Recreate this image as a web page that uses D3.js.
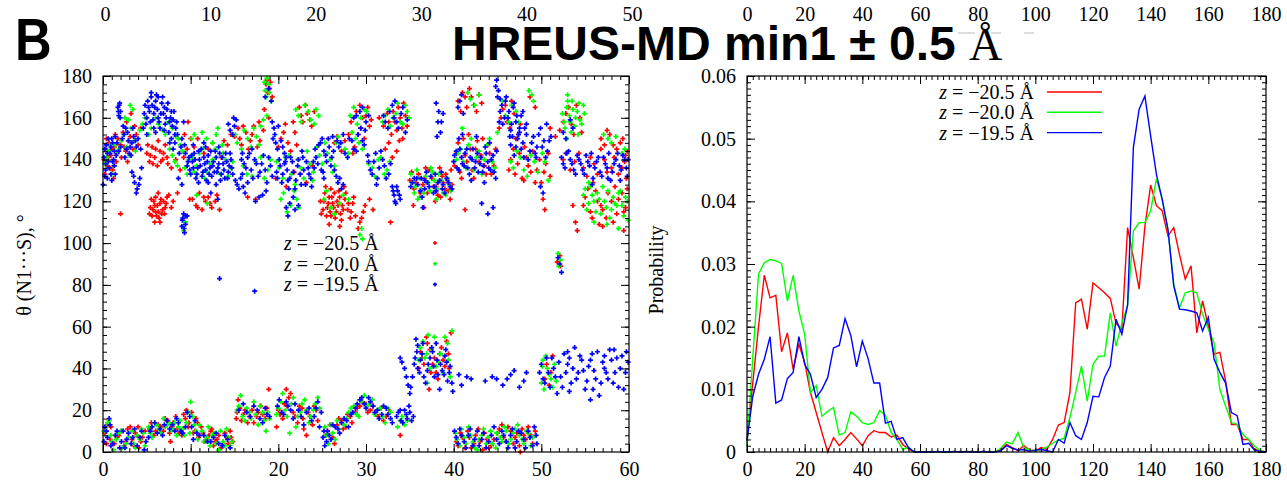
<!DOCTYPE html>
<html>
<head>
<meta charset="utf-8">
<script src="https://cdn.jsdelivr.net/npm/d3@7"></script>
<style>
  body { margin: 0; background: #fff; }
</style>
</head>
<body>
<svg id="chart" width="1287" height="483"></svg>
<script>
// ---- data: time (ns), angle (deg) pairs ----
const redPoints = [
  0.1,140, 0.3,145, 0.5,137, 0.7,148, 0.9,142, 1.1,135, 1.3,146, 1.5,139,
  1.7,150, 2.0,147, 2.3,153, 2.6,144, 2.9,149, 2.0,114, 2.7,158, 3.2,162, 3.6,156,
  5.0,143, 5.3,139, 5.6,146, 5.9,141, 6.2,137, 6.5,144, 6.8,140, 7.1,147, 7.4,138,
  5.4,117, 5.6,113, 5.8,120, 6.0,115, 6.2,118, 6.4,112, 6.6,121, 6.8,116, 7.0,114, 7.2,119, 7.5,123, 7.8,117, 5.9,110, 6.3,124,
  7.8,136, 8.3,140, 8.8,135, 9.2,141, 9.3,152, 9.7,158, 10.0,150,
  10.2,121, 10.6,118, 11.0,124, 11.3,116, 11.7,120, 12.0,122, 12.4,117, 12.8,120, 13.3,116,
  10.4,146, 11.5,143, 12.5,148, 13.5,141, 14.2,147,
  15.0,151, 15.4,155, 15.8,147, 16.3,153, 16.8,149, 17.2,156, 17.6,146, 16.5,122, 17.4,121,
  17.8,158, 18.3,154, 18.9,160, 18.6,176, 19.0,174, 19.3,170,
  20.3,150, 20.8,157, 21.4,144, 21.9,153, 22.4,165, 22.8,158, 23.3,162, 23.8,156,
  22.5,133, 23.2,129, 23.9,137,
  24.8,120, 25.1,116, 25.3,124, 25.5,113, 25.7,119, 25.9,115, 26.1,122, 26.3,117, 26.5,112, 26.7,120,
  26.9,125, 27.1,114, 27.3,118, 27.6,121, 27.9,116, 28.2,112, 28.5,119, 25.8,109, 27.0,108,
  26.4,148, 27.2,144, 28.0,152, 28.7,146, 29.4,155, 28.3,158, 28.9,163, 29.6,160, 30.2,165, 30.6,159,
  29.1,107, 29.5,112, 29.9,118, 30.4,121, 30.8,116,
  32.0,156, 32.4,162, 32.9,152, 33.3,158, 33.7,165, 34.1,155, 34.5,161, 32.2,145, 33.0,141, 33.8,149, 32.8,110,
  35.0,130, 35.5,126, 36.0,133, 36.5,128, 37.0,124, 37.5,131, 38.0,127, 38.5,122, 38.8,129, 39.1,133,
  39.4,125, 39.6,121, 39.8,128, 36.8,136, 35.4,118, 36.6,117,
  40.1,137, 40.5,148, 40.9,131, 41.3,142, 41.7,152, 42.1,135, 42.5,145, 42.9,139, 43.3,150, 43.7,133, 44.1,143, 44.6,137,
  40.5,168, 41.0,172, 41.5,165, 42.0,170, 42.6,163, 43.2,167, 41.3,116,
  45.4,160, 45.9,166, 46.4,155, 46.9,162, 47.4,152,
  46.5,140, 47.0,133, 47.5,143, 48.0,130, 48.5,137, 49.0,144, 49.5,135, 50.0,129, 50.5,138, 51.0,132,
  48.7,170, 49.3,165, 51.0,155, 51.6,151, 52.1,154, 52.8,162, 53.4,157, 54.0,166, 54.6,153,
  53.6,118, 53.9,110, 54.1,106,
  52.5,140, 53.3,135, 54.3,143, 55.2,132, 56.0,138, 56.8,145, 57.5,134, 58.3,141, 59.2,136, 59.7,131,
  55.0,122, 55.6,115, 56.2,125, 56.8,118, 57.4,112, 58.0,120, 58.6,114, 59.2,124, 59.6,117, 57.0,108, 59.4,106,
  56.8,150, 57.5,154, 58.2,147, 59.0,148, 59.6,142, 51.8,91, 52.1,94, 52.2,89,
  0.2,9, 0.5,13, 0.8,6, 1.3,4, 1.8,8, 2.4,3, 2.8,11, 3.3,6, 3.7,9, 4.1,2, 4.5,7, 4.0,12,
  5.3,11, 5.8,8, 6.3,13, 6.9,10, 7.4,15, 7.9,12, 8.3,17, 8.7,9, 7.7,5,
  9.2,18, 9.5,20, 9.8,14, 10.3,9, 10.6,16, 10.9,7, 11.2,12,
  11.6,5, 12.1,8, 12.6,3, 13.0,6, 13.5,2, 13.9,9, 14.3,4, 14.6,7, 12.4,11,
  15.2,16, 15.6,21, 16.0,18, 16.5,14, 17.0,20, 17.5,17, 18.0,22, 18.5,16, 18.9,30, 15.4,25,
  19.8,12, 20.2,18, 20.7,23, 21.2,26, 21.7,19, 22.2,14, 22.7,21, 23.2,8, 23.6,17, 24.1,22, 24.5,15, 20.9,30, 22.9,11,
  25.4,8, 25.9,13, 26.4,4, 26.9,16, 27.4,11, 27.9,18, 28.4,14, 29.0,21,
  29.6,24, 30.2,19, 30.8,22, 31.4,17, 32.0,15, 32.6,20, 33.9,8,
  36.2,48, 36.6,42, 37.0,52, 37.4,38, 37.8,45, 38.2,35, 38.6,50, 39.0,41, 39.4,47, 39.7,57, 37.2,30,
  40.3,5, 40.8,9, 41.3,2, 41.8,7, 42.3,4, 42.8,11, 43.3,1, 43.8,6, 44.3,3, 45.0,9, 45.5,13, 46.0,5,
  46.5,10, 47.0,7, 47.5,3, 48.0,8, 48.5,12, 49.0,4, 47.6,0,
  50.4,35, 50.9,32, 51.3,46
];
const redPointsMore = [
  0.2,133, 0.4,150, 0.6,141, 0.8,136, 1.0,145, 1.2,131, 1.4,152, 1.6,143,
  2.1,141, 2.4,146, 2.8,139, 3.1,151, 3.4,145, 3.8,152, 4.0,147, 4.3,155,
  5.1,147, 5.4,142, 5.7,138, 6.0,145, 6.3,149, 6.6,139, 6.9,143, 7.3,141,
  5.5,121, 5.7,116, 5.9,118, 6.1,113, 6.3,115, 6.5,119, 6.7,114, 6.9,120, 7.1,117, 7.3,122, 6.0,122, 6.5,110, 5.3,114,
  8.0,120, 8.5,124, 9.9,121, 10.8,117, 11.5,122, 12.2,119, 13.0,123,
  9.6,145, 10.8,150, 12.0,145, 13.8,149, 14.6,152,
  15.6,150, 16.0,156, 16.6,145, 17.0,152, 17.9,149, 18.4,164, 18.8,172, 19.1,177, 18.7,178,
  20.0,146, 20.6,153, 21.1,148, 21.7,158, 22.1,147, 22.6,161, 23.1,166, 23.6,159, 24.1,163,
  19.7,131, 20.9,127, 21.8,134,
  24.9,114, 25.2,120, 25.4,127, 25.6,117, 25.8,122, 26.0,113, 26.2,119, 26.4,124, 26.6,115, 26.8,118,
  27.0,122, 27.2,111, 27.4,116, 27.7,124, 28.0,119, 28.3,115, 28.6,122, 28.8,113, 26.0,126, 27.5,127,
  26.7,151, 27.6,149, 28.5,143, 29.1,152, 29.8,150, 29.3,166, 30.0,161, 30.4,156, 29.3,110, 29.7,115,
  31.5,160, 32.6,158, 33.1,163, 33.5,154, 33.9,160, 34.3,167, 34.7,156, 32.6,148, 33.5,144, 34.2,150,
  35.2,134, 35.7,129, 36.2,124, 36.7,131, 37.2,135, 37.7,127, 38.2,123, 38.7,132, 39.0,126, 39.3,130, 39.7,135, 38.4,136, 37.9,120,
  40.3,143, 40.7,134, 41.1,150, 41.5,139, 41.9,145, 42.3,131, 42.7,149, 43.1,142, 43.5,137, 43.9,147, 44.3,133, 44.8,145,
  40.8,163, 41.3,170, 41.8,174, 42.3,166, 42.9,171,
  45.2,155, 45.6,164, 46.1,158, 46.6,168, 47.1,150, 47.6,157,
  46.3,135, 46.8,145, 47.3,138, 47.8,131, 48.3,141, 48.8,134, 49.3,129, 49.8,140, 50.3,134, 50.8,143, 48.1,146,
  50.2,121, 50.4,116, 52.5,158, 53.1,165, 53.7,152, 54.4,160,
  52.8,143, 53.8,139, 54.8,136, 55.6,141, 56.4,133, 57.2,140, 58.0,136, 58.8,133, 59.5,139,
  54.8,118, 55.3,126, 55.8,112, 56.4,120, 57.0,116, 57.6,124, 58.2,110, 58.8,121, 59.4,115, 59.8,126, 56.6,109, 58.4,127, 55.9,129,
  57.2,147, 57.8,152, 58.6,145, 59.3,150, 59.8,144,
  0.4,4, 0.9,12, 1.6,7, 2.1,10, 2.6,5, 3.1,12, 3.5,3, 3.9,8, 4.3,5, 4.8,10,
  5.5,14, 6.0,10, 6.6,12, 7.1,16, 7.6,9, 8.0,14, 8.5,11, 9.0,8, 9.4,16, 9.7,12, 10.1,19, 10.5,10, 10.8,14, 11.4,9,
  11.9,6, 12.3,10, 12.8,5, 13.2,8, 13.7,4, 14.1,7, 14.5,10, 14.8,5,
  15.3,19, 15.8,15, 16.2,20, 16.7,17, 17.2,14, 17.7,19, 18.2,18, 18.7,21,
  20.0,20, 20.5,16, 21.0,22, 21.4,28, 21.9,17, 22.4,22, 22.8,16, 23.4,19, 23.9,13, 24.3,20,
  25.6,10, 26.2,7, 26.7,13, 27.2,15, 27.7,12, 28.2,17, 28.8,19, 29.3,22,
  30.0,23, 30.5,20, 31.1,18, 31.7,21, 32.3,17,
  36.4,45, 36.9,55, 37.3,49, 37.6,42, 38.0,38, 38.4,47, 38.8,44, 39.2,53, 39.5,40, 36.0,40,
  40.5,3, 41.0,7, 41.6,10, 42.0,2, 42.5,8, 43.0,5, 43.5,9, 44.0,2, 44.6,6, 45.2,11, 45.7,7, 46.2,12,
  46.8,4, 47.2,9, 47.8,11, 48.2,6, 48.8,8, 49.3,10,
  50.6,42, 51.1,38
];

const greenPoints = [
  0.2,138, 0.6,144, 1.0,133, 1.4,147, 1.8,145, 2.4,152, 3.0,142, 3.5,149, 2.9,159, 3.4,164,
  4.5,157, 5.2,152, 6.0,160, 6.8,154, 7.5,158, 8.3,151, 7.6,145, 8.2,139, 8.8,147, 9.3,136,
  9.2,106, 9.4,110,
  9.8,140, 10.4,134, 11.0,143, 11.6,131, 12.2,138, 12.8,145, 13.4,133, 14.0,140, 14.6,136,
  10.7,123, 11.9,119, 10.1,150, 11.3,153, 12.5,148, 13.1,155,
  15.3,148, 16.1,154, 16.9,146, 17.5,151, 16.0,137, 17.0,132, 18.0,141, 18.8,135, 18.0,156, 18.7,161,
  18.4,177, 18.7,179, 19.0,172, 19.2,168,
  19.8,139, 20.5,131, 21.2,142, 21.9,128, 22.6,136, 23.3,144, 23.9,130, 20.6,124, 21.4,118, 22.1,121,
  22.0,164, 22.6,158, 23.4,163, 24.1,157, 24.6,161,
  24.4,146, 25.0,138, 25.6,143, 26.2,134, 26.6,148, 25.2,121, 26.0,117, 27.4,123,
  26.8,151, 27.6,145, 28.4,153, 29.2,148, 28.2,161, 29.0,157, 29.8,164, 29.3,104, 29.5,107,
  30.3,138, 31.0,132, 31.7,141, 32.4,135,
  31.9,158, 32.5,164, 33.1,160, 33.6,167, 34.2,157, 34.7,163,
  35.1,133, 35.6,127, 36.1,131, 36.6,124, 37.1,129, 37.6,134, 38.1,126, 38.6,130, 39.1,123, 39.5,128, 35.9,121, 37.4,136,
  40.3,140, 40.8,145, 41.4,136, 42.0,150, 42.6,141, 43.2,133, 43.8,147, 44.4,139, 45.0,153,
  41.6,172, 42.4,166, 45.6,168, 46.3,158, 47.1,163,
  46.8,136, 47.6,141, 48.4,132, 49.2,139, 50.1,143, 50.8,130, 48.6,173, 49.1,168,
  52.6,158, 52.9,165, 53.2,161, 53.5,168, 53.8,156, 54.1,163, 54.4,159, 54.8,166, 53.0,171, 54.2,152,
  55.0,126, 55.4,119, 55.8,123, 56.2,115, 56.6,121, 57.0,127, 57.4,117, 57.8,112, 58.2,122, 58.6,118,
  59.0,125, 59.4,113, 59.8,120, 56.0,110, 58.8,107, 57.1,152, 58.0,148, 59.5,145,
  51.9,95, 52.2,92, 52.0,89,
  0.3,12, 0.7,15, 0.9,8, 1.5,6, 2.0,10, 2.6,4, 1.2,1, 3.5,4, 3.9,8, 4.4,11, 4.8,3,
  5.4,9, 5.9,14, 6.4,11, 6.9,16, 7.3,13, 7.8,10, 8.2,14, 8.6,12,
  9.3,8, 9.7,19, 10.0,24, 10.4,13, 10.8,6, 11.3,10,
  11.8,7, 12.2,3, 12.7,9, 13.2,1, 13.7,5, 14.1,11, 14.5,3, 12.0,12,
  15.3,20, 15.7,27, 16.2,15, 16.7,19, 17.2,24, 17.7,13, 18.2,19, 18.6,10, 19.0,16,
  20.0,21, 20.5,28, 21.0,17, 21.5,23, 22.0,12, 22.5,19, 23.0,25, 23.5,14, 24.0,20, 24.5,26, 21.3,9,
  25.3,12, 25.7,4, 26.2,9, 26.7,15,
  27.5,13, 28.0,19, 28.6,22, 29.2,17, 29.8,27, 30.4,23, 31.0,18, 31.6,21, 32.2,14, 32.8,19,
  33.6,12, 34.1,17, 34.7,15,
  36.0,44, 36.5,53, 36.9,47, 37.3,40, 37.8,55, 38.3,43, 38.8,38, 39.3,52, 39.6,36, 37.0,33,
  40.2,9, 40.7,3, 41.2,7, 41.7,12, 42.2,5, 42.7,1, 43.2,8, 43.7,4, 44.2,10, 44.8,2, 45.3,7,
  45.8,12, 46.3,4, 46.8,9, 47.3,13, 47.8,6, 48.3,10, 48.8,3,
  50.1,41, 50.5,46, 50.9,37, 51.3,31, 51.7,34, 50.3,30
];
const greenPointsMore = [
  0.4,141, 0.8,147, 1.2,137, 1.6,143, 2.1,149, 2.7,146, 3.2,155, 3.7,144, 2.5,160, 3.1,166,
  4.2,154, 4.8,160, 5.5,155, 6.3,157, 7.1,152, 7.9,155, 8.6,150, 7.9,142, 8.5,137, 9.1,144,
  9.6,133, 10.2,141, 10.7,137, 11.3,145, 11.9,134, 12.5,140, 13.1,136, 13.7,143, 14.3,132, 14.8,139,
  10.4,152, 11.8,150, 12.9,152, 13.6,147,
  15.1,152, 15.8,145, 16.5,150, 17.2,155, 17.8,147, 16.4,133, 17.4,139, 18.4,131, 19.1,140, 18.3,159,
  18.5,173, 18.9,176, 18.6,170,
  20.1,136, 20.8,141, 21.5,133, 22.2,140, 22.9,131, 23.6,138, 24.0,134, 20.3,121, 21.0,115, 21.8,125, 22.3,117,
  22.3,161, 23.0,166, 23.7,159, 24.3,164,
  24.7,142, 25.3,148, 25.9,140, 26.4,137, 25.5,125, 26.4,114, 27.0,119, 28.0,121,
  27.2,148, 28.0,143, 28.8,150, 29.6,145, 28.6,165, 29.4,160, 30.1,163, 29.6,102,
  30.7,136, 31.4,140, 32.1,133, 32.7,139,
  32.2,161, 32.8,156, 33.4,162, 33.9,158, 34.5,166, 34.9,160,
  35.3,129, 35.8,135, 36.3,126, 36.8,132, 37.3,125, 37.8,130, 38.3,133, 38.8,124, 39.3,131, 39.7,125, 36.1,122, 38.0,121, 35.5,124,
  40.5,143, 41.1,139, 41.7,147, 42.3,135, 42.9,144, 43.5,140, 44.1,150, 44.7,136, 41.0,155,
  41.9,169, 42.9,171, 45.9,161, 46.6,166, 47.4,158,
  46.5,139, 47.2,144, 48.0,135, 48.8,142, 49.6,134, 50.4,139, 48.9,171,
  52.4,162, 52.7,155, 53.0,168, 53.3,158, 53.6,164, 53.9,160, 54.3,167, 54.6,157, 54.9,162, 53.4,153, 52.9,150,
  54.8,123, 55.2,116, 55.6,127, 56.0,120, 56.4,124, 56.8,114, 57.2,120, 57.6,125, 58.0,116, 58.4,119,
  58.8,124, 59.2,118, 59.6,122, 59.9,111, 57.5,109, 55.4,129, 57.6,150, 58.5,151, 59.2,143,
  0.1,10, 0.5,14, 1.0,5, 1.7,9, 2.2,2, 2.9,7, 3.3,10, 3.7,2, 4.2,6, 4.6,9,
  5.2,12, 5.6,7, 6.1,13, 6.6,9, 7.1,12, 7.6,14, 8.0,11, 8.4,8, 8.8,15, 9.1,11, 9.5,14, 9.9,9, 10.2,17, 10.6,10, 11.0,13, 11.5,5,
  12.0,5, 12.5,8, 12.9,4, 13.4,10, 13.9,3, 14.3,7, 14.7,5,
  15.5,22, 15.9,17, 16.4,21, 16.9,16, 17.4,18, 17.9,22, 18.4,15, 18.8,19,
  19.8,18, 20.3,24, 20.8,20, 21.7,26, 22.2,17, 22.7,23, 23.2,20, 23.7,17, 24.2,23, 24.7,21,
  25.5,8, 26.0,13, 26.5,6, 26.9,11,
  27.8,16, 28.3,21, 28.9,18, 29.5,24, 30.1,22, 30.7,25, 31.3,20, 31.9,17, 32.5,21, 33.9,15, 34.4,13,
  36.2,50, 36.7,45, 37.1,56, 37.5,49, 38.0,41, 38.5,47, 39.0,55, 39.4,44, 39.8,58,
  40.4,6, 40.9,11, 41.4,4, 41.9,8, 42.4,2, 42.9,6, 43.4,11, 43.9,7, 44.4,4, 44.9,9, 45.5,5, 46.0,10,
  46.5,6, 47.0,11, 47.5,8, 48.0,4, 48.5,9, 49.0,7,
  50.2,44, 50.7,40, 51.1,35, 51.5,42, 50.0,33
];

const bluePoints = [
  0.0,128, 0.1,141, 0.3,135, 0.4,147, 0.6,139, 0.8,143, 0.9,133, 1.1,148, 1.3,137, 1.5,142, 0.5,131, 1.0,150, 1.2,140,
  1.7,165, 1.8,161, 1.9,167, 2.0,163,
  1.8,144, 2.2,150, 2.5,141, 2.8,153, 3.1,146, 3.4,155, 3.7,149, 2.3,156, 3.0,143,
  3.3,134, 3.6,129, 3.9,126, 4.2,131, 4.4,136,
  4.7,162, 4.9,157, 5.1,168, 5.3,163, 5.5,170, 5.7,159, 5.9,165, 6.1,171, 6.3,160, 6.5,155, 6.7,167,
  6.9,162, 7.1,157, 7.3,164, 7.5,153, 7.7,160, 7.9,156, 8.1,163, 8.3,155, 6.0,153, 5.0,152,
  7.6,148, 8.0,145, 8.5,152, 8.9,146, 9.2,158, 9.4,143, 8.6,131, 9.0,128,
  9.0,108, 9.1,112, 9.3,105, 9.4,109, 9.6,113, 9.2,114,
  9.6,137, 9.8,141, 10.0,133, 10.2,139, 10.4,143, 10.6,131, 10.8,136, 11.0,140, 11.2,145, 11.4,134,
  11.6,138, 11.8,130, 12.0,142, 12.2,136, 12.4,132, 12.6,139, 12.8,144, 13.0,134, 13.2,138, 13.4,130,
  13.6,141, 13.8,135, 14.0,143, 14.2,131, 14.4,137, 14.6,140, 14.8,133, 10.9,129, 12.9,128, 11.7,146,
  12.3,124, 13.1,121, 14.3,157, 14.8,152, 15.2,159,
  15.1,130, 15.5,126, 15.9,133, 16.2,124,
  15.8,140, 16.3,136, 16.7,143, 17.1,131, 17.5,138, 17.9,134, 18.3,142, 18.7,129, 19.1,137, 16.5,129,
  17.4,120, 18.2,123, 18.5,170, 18.9,174, 19.2,168,
  19.3,158, 19.6,152, 19.9,145, 20.3,149, 20.7,138, 19.5,155,
  19.8,134, 20.1,140, 20.4,129, 20.7,143, 21.0,135, 21.3,131, 21.6,139, 21.9,126, 22.2,137, 22.5,133,
  22.8,141, 23.1,128, 23.4,136, 23.7,131, 24.0,139,
  20.9,117, 21.1,113, 21.7,122, 22.3,118,
  24.2,145, 24.5,138, 24.8,148, 25.1,134, 25.4,142, 25.7,150, 26.0,137, 26.3,144, 26.6,132, 25.2,131,
  26.8,129, 27.2,126,
  26.9,146, 27.4,152, 27.9,141, 28.4,149, 28.9,144, 29.4,155, 29.8,147, 28.6,160, 29.3,163, 30.0,158,
  30.2,142, 30.5,135, 30.9,139, 31.3,131, 31.7,144, 32.1,137, 32.6,133,
  32.0,161, 32.5,155, 33.0,166, 33.5,158, 34.0,162, 34.5,153,
  33.0,127, 33.2,123, 33.4,119, 33.6,125, 33.9,121,
  35.3,129, 35.8,131, 36.2,125, 36.7,130, 37.2,127, 37.7,124, 38.2,129, 38.7,126, 39.2,131, 39.6,127, 36.4,122, 37.9,133,
  36.5,117, 38.0,167, 38.2,158, 38.5,153, 38.8,162,
  40.0,139, 40.3,144, 40.6,135, 40.9,141, 41.2,137, 41.5,145, 41.8,133, 42.1,140, 42.4,136, 42.7,143,
  43.0,138, 43.3,134, 43.6,146, 43.9,139, 44.2,135, 44.5,142, 44.8,131, 41.0,152, 43.5,129,
  40.5,165, 40.9,171, 43.2,119, 43.9,114, 44.5,117,
  44.9,178, 45.1,173, 45.3,169,
  45.3,163, 45.6,157, 45.9,168, 46.2,160, 46.5,154, 46.8,165, 47.1,158, 47.4,152, 47.7,161,
  46.5,147, 46.9,142, 47.3,150, 47.7,145, 48.1,155, 48.5,140, 48.9,148, 49.3,143, 49.7,152, 50.1,146,
  50.5,141, 50.9,149, 48.3,157, 49.9,127, 50.2,124,
  52.3,141, 52.7,136, 53.1,144, 53.5,138, 53.9,133, 54.3,140, 54.7,135, 55.1,142, 55.5,137, 55.9,131,
  56.3,139, 56.7,134, 57.1,141, 57.5,136, 57.9,130, 58.3,138, 58.7,143, 59.1,135, 59.5,140, 59.8,132,
  52.5,153, 53.3,159, 51.9,93, 52.1,90, 52.3,86,
  13.3,83, 17.3,77,
  0.1,5, 0.4,10, 0.7,16, 0.9,3, 1.4,8, 1.9,2, 2.3,10, 2.7,6, 3.2,4, 3.6,11, 4.2,7, 4.7,1,
  5.2,7, 5.6,12, 6.2,9, 7.0,13, 7.6,11, 8.4,16, 8.9,10, 9.4,12, 9.9,17, 10.3,6, 10.7,9,
  11.5,8, 12.3,5, 12.9,9, 13.6,3, 14.2,6,
  16.0,23, 16.8,17, 17.6,20, 18.2,14, 18.7,18,
  20.1,25, 20.6,18, 21.1,22, 21.7,16, 22.3,20, 22.9,13, 23.5,21, 24.1,17, 24.5,24, 24.9,19,
  25.1,7, 25.3,3, 25.6,10, 26.0,6, 26.5,12, 27.0,9,
  27.5,16, 28.0,12, 28.5,19, 29.0,23, 29.5,26, 30.0,21, 30.5,24, 31.0,19, 31.5,16, 32.0,22, 32.5,18, 33.0,14,
  33.5,17, 33.9,20, 34.2,14, 34.6,18, 34.9,22, 35.2,15,
  33.9,45, 34.4,40, 34.8,32, 35.0,28, 35.3,36, 35.5,42, 35.8,48,
  35.7,54, 36.1,38, 36.4,47, 36.8,33, 37.1,42, 37.5,50, 37.8,36, 38.1,44, 38.4,30, 38.7,39,
  39.0,46, 39.3,34, 39.6,41, 39.9,29, 38.0,52,
  40.1,10, 40.5,4, 40.9,8, 41.4,2, 41.9,11, 42.4,6, 42.9,3, 43.4,9, 44.0,5, 44.6,12,
  45.2,4, 45.7,8, 46.2,2, 46.7,11, 47.2,5, 47.7,9, 48.2,2, 48.7,7, 49.2,12, 49.5,4,
  40.6,37, 41.5,36, 42.0,35, 43.6,34, 44.4,36, 45.6,32, 46.1,35, 46.9,39, 47.5,31, 48.3,38,
  49.8,38, 50.2,35, 50.6,45, 51.0,31, 51.4,40, 51.8,28, 52.2,36, 52.6,47, 53.0,42, 53.4,33,
  53.8,50, 54.2,38, 54.6,44, 55.0,30, 55.4,41, 55.8,47, 56.2,35, 56.6,27, 57.0,43, 57.4,38,
  57.8,49, 58.2,33, 58.6,45, 59.0,40, 59.4,30, 59.7,48, 55.6,25, 53.2,29, 57.2,46
];
const bluePointsMore = [
  0.2,145, 0.3,138, 0.5,143, 0.7,136, 0.9,146, 1.1,139, 1.3,144, 1.4,133, 1.6,148, 0.2,132, 0.6,150, 1.0,130, 1.4,151,
  1.75,163, 1.85,166, 1.95,160,
  2.0,146, 2.4,152, 2.7,145, 2.9,149, 3.2,142, 3.5,151, 3.8,146, 2.6,155, 3.3,148, 4.0,150, 4.3,145,
  3.5,132, 3.8,124, 4.1,128,
  4.8,166, 5.0,160, 5.2,165, 5.4,158, 5.6,166, 5.8,162, 6.0,168, 6.2,164, 6.4,158, 6.6,162, 6.8,170, 7.0,165,
  7.2,160, 7.4,167, 7.6,158, 7.8,163, 8.0,159, 8.2,152, 5.5,172, 6.3,170, 7.0,154, 4.6,155, 5.8,155,
  7.8,150, 8.2,148, 8.7,143, 9.0,150, 9.3,147, 8.4,158, 9.05,111, 9.25,107, 9.45,113,
  9.7,139, 9.9,135, 10.1,142, 10.3,136, 10.5,140, 10.7,133, 10.9,144, 11.1,137, 11.3,132, 11.5,141,
  11.7,135, 11.9,139, 12.1,133, 12.3,144, 12.5,137, 12.7,134, 12.9,141, 13.1,136, 13.3,143, 13.5,133,
  13.7,138, 13.9,131, 14.1,139, 14.3,134, 14.5,143, 14.7,136, 10.3,147, 11.5,148, 13.2,146, 12.0,129,
  14.5,154, 15.0,156, 14.9,160, 15.3,128, 15.7,131, 16.0,127,
  15.9,143, 16.1,138, 16.5,141, 16.9,135, 17.3,140, 17.7,132, 18.1,138, 18.5,135, 18.9,141, 19.3,132, 17.0,145,
  17.8,122, 18.6,125,
  19.4,150, 19.7,148, 20.0,156, 20.5,146, 20.9,141,
  19.9,131, 20.2,137, 20.5,133, 20.8,139, 21.1,130, 21.4,141, 21.7,134, 22.0,130, 22.3,140, 22.6,128,
  22.9,135, 23.2,139, 23.5,133, 23.8,127, 24.1,136, 21.2,126, 22.7,144, 21.3,119, 21.9,116,
  24.3,141, 24.6,147, 24.9,135, 25.2,144, 25.5,139, 25.8,146, 26.1,141, 26.4,135, 26.7,149, 25.0,150, 26.2,151,
  27.0,131, 27.4,128,
  27.1,148, 27.6,143, 28.1,150, 28.6,145, 29.1,152, 29.6,149, 29.9,154, 28.9,161, 29.6,165, 30.3,161,
  30.3,139, 30.7,133, 31.1,143, 31.5,136, 31.9,140, 32.3,131, 32.8,138, 31.2,128,
  32.2,158, 32.7,163, 33.2,160, 33.7,155, 34.2,165, 34.7,159, 33.3,168,
  33.1,125, 33.3,120, 33.5,127, 33.8,123,
  35.1,127, 35.5,131, 35.9,128, 36.3,131, 36.7,126, 37.0,129, 37.4,132, 37.8,127, 38.0,125, 38.4,130,
  38.8,128, 39.0,124, 39.4,129, 39.8,126, 36.9,134, 38.6,134, 38.3,163, 38.6,158, 38.1,151,
  40.1,142, 40.4,136, 40.7,145, 41.0,138, 41.3,143, 41.6,136, 41.9,141, 42.2,145, 42.5,139, 42.8,134,
  43.1,141, 43.4,137, 43.7,143, 44.0,136, 44.3,140, 44.6,134, 44.9,144, 42.0,130, 44.1,148, 40.6,150, 42.6,151,
  40.7,168, 41.1,162, 44.8,175, 45.0,170,
  45.5,166, 45.8,160, 46.0,170, 46.3,163, 46.6,157, 46.9,167, 47.2,161, 47.5,155, 47.9,163, 45.2,158, 46.4,151,
  46.7,151, 47.1,146, 47.5,153, 47.9,148, 48.3,152, 48.7,144, 49.1,151, 49.5,146, 49.9,155, 50.3,149,
  50.7,144, 51.1,151, 48.0,141, 49.4,141, 50.6,157,
  52.5,138, 52.9,143, 53.3,140, 53.7,135, 54.1,142, 54.5,138, 54.9,133, 55.3,139, 55.7,143, 56.1,136,
  56.5,141, 56.9,132, 57.3,138, 57.7,143, 58.1,134, 58.5,140, 58.9,137, 59.3,142, 59.7,136, 55.8,128,
  57.6,131, 59.0,130, 52.8,150, 53.6,155, 59.9,140,
  0.2,12, 0.5,7, 0.8,13, 1.1,4, 1.6,10, 2.1,5, 2.5,2, 2.9,9, 3.4,7, 3.9,3, 4.4,10, 4.9,5,
  5.4,10, 5.9,14, 6.5,11, 6.8,8, 7.3,15, 7.9,13, 8.2,10, 8.6,14, 9.1,9, 9.6,19, 10.1,12, 10.5,15, 11.0,8,
  11.9,5, 12.6,7, 13.2,4, 13.9,8, 14.5,2,
  15.5,20, 16.4,19, 17.2,22, 17.9,16, 18.5,21, 19.0,17,
  19.9,22, 20.4,19, 20.9,24, 21.4,20, 21.9,23, 22.6,17, 23.2,19, 23.8,15, 24.3,21, 24.7,12,
  25.2,10, 25.5,5, 25.8,8, 26.2,13, 26.8,11, 27.2,14,
  27.8,15, 28.3,18, 28.8,21, 29.3,25, 29.8,23, 30.3,26, 30.8,22, 31.3,20, 31.8,18, 32.3,21, 32.8,16,
  33.7,19, 34.0,15, 34.4,20, 34.7,16, 35.0,19, 35.4,17,
  34.1,43, 34.6,36, 35.1,31, 35.6,45, 35.9,51,
  35.9,40, 36.2,44, 36.6,36, 37.0,39, 37.3,45, 37.7,41, 38.2,37, 38.5,42, 38.9,37, 39.2,43, 39.5,38, 39.8,33,
  36.5,52, 37.6,48, 39.1,49,
  40.3,7, 40.7,11, 41.2,5, 41.7,8, 42.2,3, 42.7,10, 43.2,6, 43.7,2, 44.3,8, 44.9,6, 45.5,10, 46.0,5,
  46.5,8, 47.0,2, 47.4,10, 48.0,6, 48.5,10, 49.0,3, 49.4,8,
  40.9,32, 44.9,35, 46.5,37, 48.0,34,
  50.0,42, 50.4,33, 50.8,38, 51.2,45, 51.6,36, 52.0,43, 52.4,31, 52.8,38, 53.2,45, 53.6,40,
  54.0,35, 54.4,46, 54.8,39, 55.2,34, 55.6,44, 56.0,39, 56.4,48, 56.8,33, 57.2,40, 57.6,35,
  58.0,44, 58.4,38, 58.8,31, 59.2,46, 59.6,38, 59.9,43, 53.0,48, 55.9,30, 58.3,49
];

// ---- histograms: probability per 2 degree bin, 0..180 ----
const angleBins = d3.range(0, 181, 2);
const probRed = [
  0.002, 0.011, 0.020, 0.0282, 0.0246, 0.025, 0.016, 0.019, 0.0132, 0.0172,
  0.0143, 0.0095, 0.0063, 0.0031, 0, 0.0023, 0.001, 0.002, 0.0031, 0.0021,
  0.001, 0.0026, 0.0034, 0.0031, 0.0031, 0.0024, 0.0027, 0.0012, 0.0005, 0,
  0, 0, 0, 0, 0, 0, 0, 0.0001, 0, 0.0001,
  0, 0.0001, 0, 0, 0.0003, 0.0012, 0.0007, 0.0002, 0.001, 0.0003,
  0.0002, 0.0007, 0.0004, 0.002, 0.0043, 0.0047, 0.0095, 0.0238, 0.0244, 0.0196,
  0.027, 0.0262, 0.0254, 0.0245, 0.0205, 0.0195, 0.0358, 0.031, 0.026, 0.036,
  0.0426, 0.0393, 0.0385, 0.0345, 0.0358, 0.0315, 0.0276, 0.0297, 0.019, 0.0241,
  0.0201, 0.0156, 0.0159, 0.0113, 0.0044, 0.0044, 0.002, 0.002, 0.0004, 0.0002,
  0
];
const probGreen = [
  0.001, 0.015, 0.0284, 0.0302, 0.0307, 0.0305, 0.0301, 0.0241, 0.0282, 0.0225,
  0.0188, 0.0095, 0.0106, 0.0057, 0.0065, 0.0071, 0.0027, 0.0031, 0.0064, 0.0057,
  0.0047, 0.0044, 0.0047, 0.0066, 0.0059, 0.0031, 0.002, 0.0004, 0.0008, 0,
  0, 0, 0.0001, 0, 0, 0, 0.0001, 0, 0, 0.0001,
  0, 0, 0.0001, 0, 0.0006, 0.0016, 0.0013, 0.0031, 0.0007, 0.0003,
  0.0002, 0.0004, 0.0008, 0.0014, 0.0019, 0.0022, 0.0055, 0.0095, 0.0137, 0.0081,
  0.014, 0.0153, 0.0153, 0.0222, 0.0169, 0.0206, 0.0233, 0.0353, 0.0366, 0.0366,
  0.0385, 0.0436, 0.0403, 0.0355, 0.0268, 0.023, 0.0254, 0.0257, 0.0254, 0.022,
  0.0196, 0.0174, 0.01, 0.0073, 0.0047, 0.0044, 0.0028, 0.002, 0.001, 0.0002,
  0
];
const probBlue = [
  0.0018, 0.0089, 0.0124, 0.0148, 0.0184, 0.0078, 0.0083, 0.0117, 0.0127, 0.0184,
  0.014, 0.0124, 0.0087, 0.01, 0.0119, 0.0166, 0.017, 0.0213, 0.0186, 0.0136,
  0.0177, 0.0149, 0.011, 0.011, 0.0046, 0.0049, 0.002, 0.0023, 0.0007, 0,
  0, 0, 0, 0.0001, 0, 0, 0.0001, 0, 0.0001, 0,
  0, 0.0001, 0, 0, 0.0002, 0.001, 0.0006, 0.0003, 0.0004, 0.0001,
  0.0003, 0.0004, 0.0002, 0, 0.002, 0.0014, 0.0047, 0.0026, 0.002, 0.0047,
  0.0089, 0.0088, 0.0119, 0.0137, 0.0212, 0.0188, 0.0235, 0.0486, 0.0547, 0.0568,
  0.0504, 0.0443, 0.0403, 0.0355, 0.0265, 0.0228, 0.0227, 0.0225, 0.0222, 0.0193,
  0.0215, 0.0148, 0.0127, 0.011, 0.0063, 0.0058, 0.0012, 0.0014, 0.0003, 0.0001,
  0
];

const seriesLabels = ["\u221220.5", "\u221220.0", "\u221219.5"];
const seriesColors = ["#ff0000", "#00ff00", "#0000ff"];
const leftBottomTicks = [0, 10, 20, 30, 40, 50, 60];
const leftTopTicks = [0, 10, 20, 30, 40, 50];
const leftYTicks = [0, 20, 40, 60, 80, 100, 120, 140, 160, 180];
const rightXTicks = [0, 20, 40, 60, 80, 100, 120, 140, 160, 180];
const rightYTicks = [0, 0.01, 0.02, 0.03, 0.04, 0.05, 0.06];

const svg = d3.select("#chart");
const serif = '"Liberation Serif", "Times New Roman", serif';
const sans = '"Liberation Sans", Arial, sans-serif';

// scales
const xL = d3.scaleLinear().domain([0, 60]).range([103, 629]);
const yL = d3.scaleLinear().domain([0, 180]).range([452, 76]);
const xLtop = d3.scaleLinear().domain([0, 50]).range([105, 632]);
const xR = d3.scaleLinear().domain([0, 180]).range([747, 1266]);
const yR = d3.scaleLinear().domain([0, 0.06]).range([452, 76]);

function pairs(flat) {
  let out = [];
  for (let i = 0; i < flat.length; i += 2) out.push([flat[i], flat[i + 1]]);
  return out;
}

// frame with inward ticks on all four sides
function frame(x, y, xMajor, xMinor, yMajor, yMinor, xFmt, yFmt, yPad) {
  const [xa, xb] = x.range();
  const [ya, yb] = y.range();
  const g = svg.append("g");
  const put = (axis, tx, ty) => g.append("g").attr("transform", `translate(${tx},${ty})`).call(axis);
  put(d3.axisBottom(x).tickValues(xMinor).tickSize(-4).tickFormat(""), 0, ya);
  put(d3.axisTop(x).tickValues(xMinor).tickSize(-4).tickFormat(""), 0, yb);
  put(d3.axisLeft(y).tickValues(yMinor).tickSize(-4).tickFormat(""), xa, 0);
  put(d3.axisRight(y).tickValues(yMinor).tickSize(-4).tickFormat(""), xb, 0);
  put(d3.axisBottom(x).tickValues(xMajor).tickSize(-8).tickPadding(10).tickFormat(xFmt), 0, ya);
  put(d3.axisTop(x).tickValues(xMajor).tickSize(-8).tickFormat(""), 0, yb);
  put(d3.axisLeft(y).tickValues(yMajor).tickSize(-8).tickPadding(yPad).tickFormat(yFmt), xa, 0);
  put(d3.axisRight(y).tickValues(yMajor).tickSize(-8).tickFormat(""), xb, 0);
  g.selectAll(".domain").remove();
  g.selectAll(".tick line").attr("stroke", "#000").attr("stroke-width", 1);
  g.selectAll(".tick text").attr("font-family", serif).attr("font-size", 20).attr("fill", "#000");
  g.append("rect").attr("x", xa).attr("y", yb).attr("width", xb - xa).attr("height", ya - yb)
    .attr("fill", "none").attr("stroke", "#000").attr("stroke-width", 1.2);
}

// ---- left panel: scatter ----
const plus = (s) => `M${-s},0H${s}M0,${-s}V${s}`;
[redPoints.concat(redPointsMore), greenPoints.concat(greenPointsMore), bluePoints.concat(bluePointsMore)]
  .forEach((flat, i) => {
    svg.append("g")
      .selectAll("path")
      .data(pairs(flat))
      .join("path")
      .attr("transform", d => `translate(${xL(d[0])},${yL(d[1])})`)
      .attr("d", plus(2.5))
      .attr("stroke", seriesColors[i])
      .attr("stroke-width", 1.7)
      .attr("fill", "none");
  });

frame(xL, yL, leftBottomTicks, d3.range(0, 61, 1), leftYTicks, d3.range(0, 181, 4),
  d3.format("d"), d3.format("d"), 11);

// legend (left)
seriesLabels.forEach((lab, i) => {
  const ly = 243 + i * 20.7;
  const t = svg.append("text").attr("x", 284).attr("y", ly + 7)
    .attr("font-family", serif).attr("font-size", 20).attr("fill", "#000");
  t.append("tspan").attr("font-style", "italic").text("z");
  t.append("tspan").text(` = ${lab} \u00c5`);
  svg.append("path").attr("transform", `translate(435,${ly})`).attr("d", plus(2))
    .attr("stroke", seriesColors[i]).attr("stroke-width", 1.6);
});

// y title (left)
svg.append("text")
  .attr("transform", "translate(31,265) rotate(-90)")
  .attr("text-anchor", "middle")
  .attr("font-family", serif).attr("font-size", 20)
  .text("\u03b8 (N1\u00b7\u00b7\u00b7S), \u00b0");

// ---- right panel: probability lines ----
const line = d3.line().x((d, i) => xR(angleBins[i])).y(d => yR(d));
[probRed, probGreen, probBlue].forEach((vals, i) => {
  svg.append("path")
    .datum(vals)
    .attr("d", line)
    .attr("fill", "none")
    .attr("stroke", seriesColors[i])
    .attr("stroke-width", 1.4);
});

frame(xR, yR, rightXTicks, d3.range(0, 181, 2), rightYTicks, d3.range(0, 0.0605, 0.001),
  d3.format("d"), d => (d === 0 ? "0" : d3.format(".2f")(d)), 11);

// legend (right)
seriesLabels.forEach((lab, i) => {
  const ly = 92 + i * 20.3;
  const t = svg.append("text").attr("x", 1034).attr("y", ly + 7).attr("text-anchor", "end")
    .attr("font-family", serif).attr("font-size", 20).attr("fill", "#000");
  t.append("tspan").attr("font-style", "italic").text("z");
  t.append("tspan").text(` = ${lab} \u00c5`);
  svg.append("line").attr("x1", 1047).attr("x2", 1102).attr("y1", ly).attr("y2", ly)
    .attr("stroke", seriesColors[i]).attr("stroke-width", 1.4);
});

svg.append("text")
  .attr("transform", "translate(663,270) rotate(-90)")
  .attr("text-anchor", "middle")
  .attr("font-family", serif).attr("font-size", 20)
  .text("Probability");

// ---- top tick labels left over from the panel above ----
[[xLtop, leftTopTicks], [xR, rightXTicks]].forEach(([sc, vals]) => {
  svg.append("g").attr("transform", "translate(0,21)")
    .call(d3.axisTop(sc).tickValues(vals).tickSize(0).tickPadding(0).tickFormat(d3.format("d")))
    .call(g => g.select(".domain").remove())
    .selectAll("text").attr("font-family", serif).attr("font-size", 20).attr("fill", "#000");
});

// faint remnants of the panel above
[[958, 975], [991, 1001], [1024, 1034]].forEach(([a, b]) => {
  svg.append("line").attr("x1", a).attr("x2", b).attr("y1", 33).attr("y2", 33)
    .attr("stroke", "#bbb").attr("stroke-width", 1);
});

// ---- panel letter and title ----
svg.append("text").attr("transform", "translate(15,60) scale(0.86,1)")
  .attr("font-family", sans).attr("font-weight", "bold").attr("font-size", 59)
  .text("B");

const title = svg.append("text").attr("x", 452).attr("y", 60)
  .attr("font-family", sans).attr("font-weight", "bold").attr("font-size", 48);
title.append("tspan").text("HREUS-MD min1 \u00b1 0.5 ");
title.append("tspan").attr("font-family", serif).attr("font-weight", "normal").attr("font-size", 46).text("\u00c5");
</script>
</body>
</html>
